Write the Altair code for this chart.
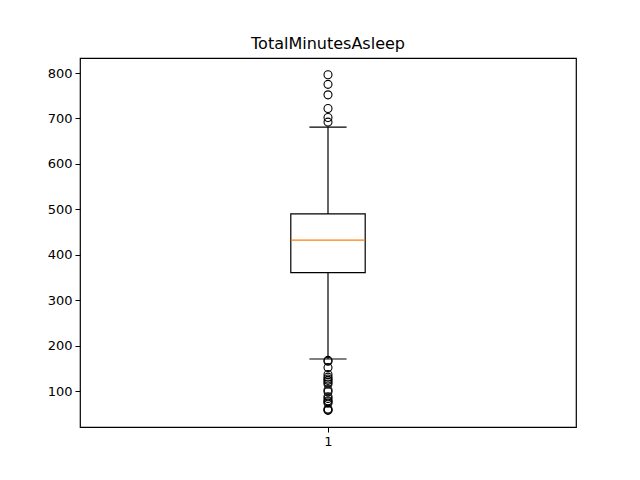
import altair as alt
import pandas as pd

title = "TotalMinutesAsleep"
category = [1]
q1 = [361]
median = [432.5]
q3 = [490]
whisker_low = [171]
whisker_high = [681]
outliers_high = [796, 775, 752, 722, 702, 692]
outliers_low = [168, 166, 152, 137, 131, 127, 124, 120, 116, 103, 99, 88, 84, 79, 77, 74, 61, 59, 58]

box_half = 0.075
cap_half = 0.0375

stats = pd.DataFrame({
    "cat": category,
    "q1": q1, "median": median, "q3": q3,
    "lo": whisker_low, "hi": whisker_high,
})
stats["bx1"] = stats["cat"] - box_half
stats["bx2"] = stats["cat"] + box_half
stats["cx1"] = stats["cat"] - cap_half
stats["cx2"] = stats["cat"] + cap_half

out = pd.DataFrame({"cat": category[0], "v": outliers_high + outliers_low})

xscale = alt.Scale(domain=[0.5, 1.5], nice=False, zero=False)
yscale = alt.Scale(domain=[21.4, 833], nice=False, zero=False)
xaxis = alt.Axis(values=[1], title=None, grid=False, labelFont="DejaVu Sans", labelFontSize=13,
                 labelColor="black", tickColor="black", domain=False, tickSize=5, labelPadding=3, format="d")
yaxis = alt.Axis(values=[100, 200, 300, 400, 500, 600, 700, 800], title=None, grid=False,
                 labelFont="DejaVu Sans", labelFontSize=13, labelColor="black", tickColor="black",
                 domain=False, tickSize=5, labelPadding=3)

base = alt.Chart(stats)

whisk_lo = base.mark_rule(color="black", strokeWidth=1.2).encode(
    x=alt.X("cat:Q", scale=xscale, axis=xaxis), y=alt.Y("lo:Q", scale=yscale, axis=yaxis), y2="q1:Q")
whisk_hi = base.mark_rule(color="black", strokeWidth=1.2).encode(
    x=alt.X("cat:Q", scale=xscale), y=alt.Y("q3:Q", scale=yscale), y2="hi:Q")
box = base.mark_rect(fill="white", stroke="black", strokeWidth=1.2).encode(
    x=alt.X("bx1:Q", scale=xscale), x2="bx2:Q", y=alt.Y("q1:Q", scale=yscale), y2="q3:Q")
med = base.mark_rule(color="#ff7f0e", strokeWidth=1.4).encode(
    x=alt.X("bx1:Q", scale=xscale), x2="bx2:Q", y=alt.Y("median:Q", scale=yscale))
cap_lo = base.mark_rule(color="black", strokeWidth=1.2).encode(
    x=alt.X("cx1:Q", scale=xscale), x2="cx2:Q", y=alt.Y("lo:Q", scale=yscale))
cap_hi = base.mark_rule(color="black", strokeWidth=1.2).encode(
    x=alt.X("cx1:Q", scale=xscale), x2="cx2:Q", y=alt.Y("hi:Q", scale=yscale))
pts = alt.Chart(out).mark_point(shape="circle", filled=False, color="black", opacity=1, size=64, strokeWidth=1.1).encode(
    x=alt.X("cat:Q", scale=xscale), y=alt.Y("v:Q", scale=yscale))

chart = alt.layer(whisk_lo, whisk_hi, box, med, cap_lo, cap_hi, pts).properties(
    width=496, height=369,
    title=alt.TitleParams(title, font="DejaVu Sans", fontSize=16, fontWeight="normal", color="black", offset=6),
    autosize=alt.AutoSizeParams(type="none"),
    padding={"left": 80, "top": 58, "right": 64, "bottom": 53},
    background="white",
).configure_view(stroke="black", strokeWidth=1.2)

chart.save("out.html", embed_options={"renderer": "svg", "actions": False})
